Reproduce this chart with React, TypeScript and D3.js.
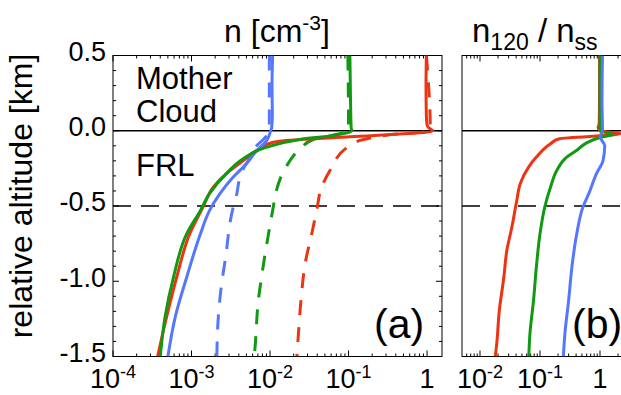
import React, { useEffect, useRef } from 'react';
import * as d3 from 'd3';

// altitude [km] for each profile point and the matching value
const altA = [0.5, 0.3, 0.1, 0.04, 0.02, 0.0, -0.04, -0.058, -0.076, -0.13, -0.197, -0.283, -0.374, -0.507, -0.684, -0.97, -1.24, -1.5];
const redSolidA = [0.98, 0.97, 0.98, 1.0, 1.05, 1.18, 0.105, 0.024, 0.011, 0.0068, 0.0046, 0.0028, 0.0019, 0.0014, 0.00095, 0.00065, 0.00048, 0.00037];

const altGreenA = [0.5, 0.2, 0.02, 0.0, -0.031, -0.058, -0.109, -0.184, -0.283, -0.416, -0.529, -0.684, -0.972, -1.238, -1.5];
const greenSolidA = [0.104, 0.106, 0.108, 0.11, 0.063, 0.024, 0.0091, 0.0046, 0.0028, 0.0017, 0.0013, 0.00087, 0.00059, 0.00046, 0.0004];

const altBlueA = [0.5, 0.3, 0.1, 0.02, 0.0, -0.064, -0.131, -0.219, -0.308, -0.418, -0.529, -0.684, -0.972, -1.238, -1.5];
const blueSolidA = [0.0108, 0.0106, 0.0107, 0.0105, 0.0102, 0.0091, 0.0068, 0.005, 0.0034, 0.0023, 0.0017, 0.0013, 0.00087, 0.00062, 0.0005];

const altBlueDash = [0.5, 0.0, -0.05, -0.098, -0.16, -0.25, -0.3, -0.44, -0.507, -0.85, -1.03, -1.23, -1.5];
const blueDashA = [0.0098, 0.0098, 0.0085, 0.0068, 0.0059, 0.0046, 0.0042, 0.0037, 0.0034, 0.0027, 0.0024, 0.0022, 0.0021];

const altGreenDash = [0.5, 0.0, -0.03, -0.06, -0.113, -0.24, -0.4, -0.507, -0.75, -0.972, -1.127, -1.414, -1.5];
const greenDashA = [0.098, 0.1, 0.063, 0.035, 0.025, 0.016, 0.012, 0.011, 0.0091, 0.0078, 0.0071, 0.0065, 0.0063];

const altRedDash = [0.5, 0.0, -0.03, -0.06, -0.104, -0.264, -0.396, -0.507, -0.684, -0.883, -1.105, -1.348, -1.5];
const redDashA = [0.98, 1.1, 0.3, 0.15, 0.1, 0.058, 0.044, 0.04, 0.034, 0.028, 0.025, 0.023, 0.022];

// panel (b): n120 / nss
const altRedB = [0.5, 0.2, 0.05, 0.02, 0.0, -0.02, -0.053, -0.086, -0.175, -0.24, -0.35, -0.463, -0.64, -0.795, -0.972, -1.193, -1.416, -1.5];
const redB = [0.98, 0.98, 0.97, 0.93, 1.0, 2.2, 0.21, 0.15, 0.087, 0.065, 0.047, 0.041, 0.034, 0.028, 0.025, 0.021, 0.019, 0.018];

const altGreenB = [0.5, 0.0, -0.025, -0.045, -0.08, -0.13, -0.18, -0.264, -0.374, -0.507, -0.684, -0.906, -1.127, -1.348, -1.5];
const greenB = [1.0, 1.0, 1.65, 1.0, 0.6, 0.41, 0.27, 0.19, 0.15, 0.12, 0.1, 0.087, 0.078, 0.068, 0.065];

const altBlueB = [0.5, 0.2, 0.0, -0.04, -0.1, -0.2, -0.286, -0.418, -0.507, -0.684, -0.906, -1.127, -1.348, -1.5];
const blueB = [1.1, 1.08, 1.1, 1.0, 1.2, 1.12, 0.87, 0.65, 0.52, 0.41, 0.34, 0.3, 0.26, 0.245];

const yTicks = [0.5, 0.0, -0.5, -1.0, -1.5];
const xTicksA = [1e-4, 1e-3, 1e-2, 1e-1, 1];
const xTicksB = [1e-2, 1e-1, 1];

const RED = '#ee3311';
const GREEN = '#119911';
const BLUE = '#5577ff';
const FONT = 'Liberation Sans, Arial, Helvetica, sans-serif';

const zip = (alt: number[], v: number[]) => alt.map((a, i) => [v[i], a] as [number, number]);

export default function App() {
  const ref = useRef<SVGSVGElement>(null);

  useEffect(() => {
    const svg = d3.select(ref.current);
    svg.selectAll('*').remove();

    const top = 55.5, bottom = 356.5;
    const y = d3.scaleLinear().domain([0.5, -1.5]).range([top, bottom]);
    const xA = d3.scaleLog().domain([1e-4, 1.55]).range([113, 442]);
    const xB = d3.scaleLog().domain([Math.pow(10, -2.3), 10]).range([462, 660]);

    const defs = svg.append('defs');
    [{ id: 'clipA', x: xA }, { id: 'clipB', x: xB }].forEach(p => {
      const [x0, x1] = p.x.range();
      defs.append('clipPath').attr('id', p.id)
        .append('rect').attr('x', x0).attr('y', top).attr('width', x1 - x0).attr('height', bottom - top);
    });

    function drawPanel(x: d3.ScaleLogarithmic<number, number>, clip: string, yTicksOn: boolean, labels: number[]) {
      const [x0, x1] = x.range();
      const g = svg.append('g');

      // frame
      g.append('rect').attr('x', x0).attr('y', top).attr('width', x1 - x0).attr('height', bottom - top)
        .attr('fill', 'none').attr('stroke', '#000').attr('stroke-width', 1);

      // log x ticks top & bottom
      const [d0, d1] = x.domain();
      const ticks: { v: number; major: boolean }[] = [];
      for (let e = Math.floor(Math.log10(d0)); e <= Math.ceil(Math.log10(d1)); e++) {
        for (let m = 1; m < 10; m++) {
          const v = m * Math.pow(10, e);
          if (v >= d0 && v <= d1) ticks.push({ v, major: m === 1 });
        }
      }
      ticks.forEach(t => {
        const px = x(t.v);
        const len = t.major ? 6 : 3;
        g.append('line').attr('x1', px).attr('x2', px).attr('y1', bottom).attr('y2', bottom - len).attr('stroke', '#000');
        g.append('line').attr('x1', px).attr('x2', px).attr('y1', top).attr('y2', top + len).attr('stroke', '#000');
      });

      if (yTicksOn) {
        d3.range(-15, 6).forEach(k => {
          const py = y(k / 10);
          const len = k % 5 === 0 ? 6 : 3;
          g.append('line').attr('x1', x0).attr('x2', x0 + len).attr('y1', py).attr('y2', py).attr('stroke', '#000');
          g.append('line').attr('x1', x1).attr('x2', x1 - len).attr('y1', py).attr('y2', py).attr('stroke', '#000');
        });
      }

      // reference lines
      g.append('line').attr('x1', x0).attr('x2', x1).attr('y1', y(0)).attr('y2', y(0))
        .attr('stroke', '#000').attr('stroke-width', 1.5);
      g.append('line').attr('x1', x0).attr('x2', x1).attr('y1', y(-0.5)).attr('y2', y(-0.5))
        .attr('stroke', '#000').attr('stroke-width', 1.5).attr('stroke-dasharray', '18,10');

      // tick labels
      labels.forEach(v => {
        const t = g.append('text').attr('x', x(v)).attr('y', 388).attr('text-anchor', 'middle')
          .attr('font-family', FONT).attr('font-size', 27);
        if (v === 1) {
          t.text('1');
        } else {
          t.append('tspan').text('10');
          t.append('tspan').attr('dy', -10).attr('font-size', 18).text(String(Math.round(Math.log10(v))));
        }
      });

      return g.append('g').attr('clip-path', `url(#${clip})`);
    }

    const line = (x: d3.ScaleLogarithmic<number, number>) =>
      d3.line<[number, number]>().x(d => x(d[0])).y(d => y(d[1])).curve(d3.curveMonotoneY);

    // panel (a)
    const ga = drawPanel(xA, 'clipA', true, xTicksA);
    const la = line(xA);
    [
      { d: zip(altBlueDash, blueDashA), c: BLUE },
      { d: zip(altGreenDash, greenDashA), c: GREEN },
      { d: zip(altRedDash, redDashA), c: RED },
    ].forEach(s => {
      ga.append('path').attr('d', la(s.d)).attr('fill', 'none').attr('stroke', s.c)
        .attr('stroke-width', 3).attr('stroke-dasharray', '15,12');
    });
    [
      { d: zip(altA, redSolidA), c: RED },
      { d: zip(altBlueA, blueSolidA), c: BLUE },
      { d: zip(altGreenA, greenSolidA), c: GREEN },
    ].forEach(s => {
      ga.append('path').attr('d', la(s.d)).attr('fill', 'none').attr('stroke', s.c)
        .attr('stroke-width', 3).attr('stroke-linejoin', 'round');
    });

    // panel (b)
    const gb = drawPanel(xB, 'clipB', false, xTicksB);
    const lb = line(xB);
    [
      { d: zip(altRedB, redB), c: RED },
      { d: zip(altGreenB, greenB), c: GREEN },
      { d: zip(altBlueB, blueB), c: BLUE },
    ].forEach(s => {
      gb.append('path').attr('d', lb(s.d)).attr('fill', 'none').attr('stroke', s.c)
        .attr('stroke-width', 3).attr('stroke-linejoin', 'round');
    });

    // y tick labels
    yTicks.forEach(v => {
      svg.append('text').attr('x', 106).attr('y', y(v)).attr('dy', '0.2em').attr('text-anchor', 'end')
        .attr('font-family', FONT).attr('font-size', 27).text(v.toFixed(1));
    });

    svg.append('text').attr('transform', `translate(32,196) rotate(-90)`).attr('text-anchor', 'middle')
      .attr('font-family', FONT).attr('font-size', 32).text('relative altitude [km]');

    // titles
    const t1 = svg.append('text').attr('x', 277).attr('y', 42).attr('text-anchor', 'middle')
      .attr('font-family', FONT).attr('font-size', 32);
    t1.append('tspan').text('n [cm');
    t1.append('tspan').attr('dy', -12).attr('font-size', 21).text('-3');
    t1.append('tspan').attr('dy', 12).text(']');

    const t2 = svg.append('text').attr('x', 472).attr('y', 42)
      .attr('font-family', FONT).attr('font-size', 33);
    t2.append('tspan').text('n');
    t2.append('tspan').attr('dy', 8).attr('font-size', 23).text('120');
    t2.append('tspan').attr('dy', -8).text(' / n');
    t2.append('tspan').attr('dy', 8).attr('font-size', 23).text('ss');

    // annotations
    const ann = (txt: string, x: number, yy: number, size: number) =>
      svg.append('text').attr('x', x).attr('y', yy).attr('font-family', FONT).attr('font-size', size).text(txt);
    ann('Mother', 136, 89, 31);
    ann('Cloud', 136, 122, 31);
    ann('FRL', 136, 176, 31);
    ann('(a)', 374, 338, 41);
    ann('(b)', 572, 338, 41);
  }, []);

  return (
    <svg ref={ref} width={621} height={395}
      style={{ position: 'absolute', left: 0, top: 0, background: '#fff' }} />
  );
}
